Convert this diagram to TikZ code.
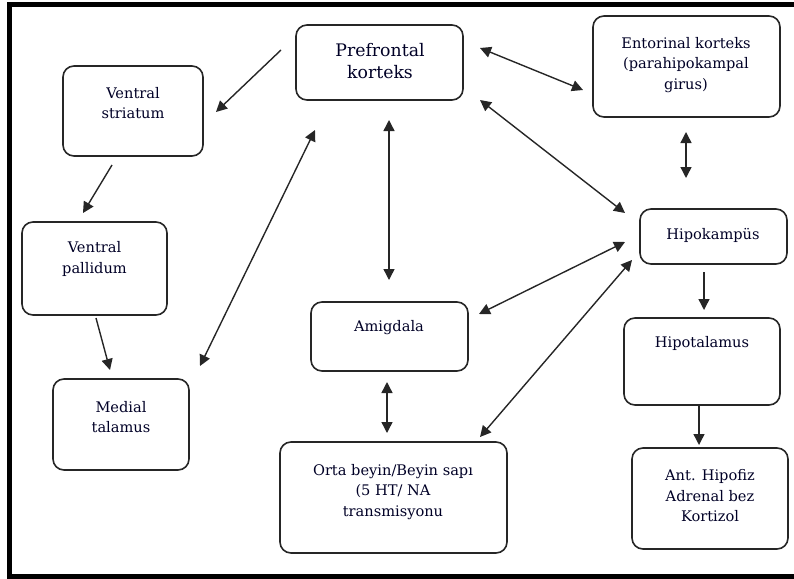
\documentclass[tikz,border=0pt]{standalone}
\usepackage{fontspec}
\setmainfont{DejaVu Serif}
\usetikzlibrary{arrows.meta}
\begin{document}
\begin{tikzpicture}[x=1pt,y=-1pt,
  boxst/.style={draw=black!85, line width=1.6pt, rounded corners=11pt, inner sep=0pt},
  txt/.style={align=center, font=\fontsize{14.6}{20.5}\selectfont, text=black!85!blue, inner sep=0pt},
  bigtxt/.style={align=center, font=\fontsize{17.3}{22}\selectfont, text=black!85!blue, inner sep=0pt},
  conn/.style={line width=1.4pt, draw=black!85, -{Triangle[length=11pt,width=11pt]}},
  dconn/.style={line width=1.4pt, draw=black!85, {Triangle[length=11pt,width=11pt]}-{Triangle[length=11pt,width=11pt]}}
]
\useasboundingbox (0,0) rectangle (794,578);
% frame (right side lies outside the picture)
\draw[line width=5pt] (800,4.5) -- (9.5,4.5) -- (9.5,576) -- (800,576);

% boxes
\draw[boxst] (296,25) rectangle (463,100) node[pos=.5] (pf) {};
\draw[boxst] (63,66) rectangle (203,156) node[pos=.5] (vs) {};
\draw[boxst] (22,222) rectangle (167,315) node[pos=.5] (vp) {};
\draw[boxst] (53,379) rectangle (189,470) node[pos=.5] (mt) {};
\draw[boxst] (311,302) rectangle (468,371) node[pos=.5] (am) {};
\draw[boxst] (280,442) rectangle (507,553) node[pos=.5] (ob) {};
\draw[boxst] (593,16) rectangle (780,117) node[pos=.5] (en) {};
\draw[boxst] (640,209) rectangle (787,264) node[pos=.5] (hk) {};
\draw[boxst] (624,318) rectangle (780,405) node[pos=.5] (ht) {};
\draw[boxst] (632,448) rectangle (788,549) node[pos=.5] (ah) {};

% texts
\node[bigtxt] (tpf) at (380,61) {Prefrontal\\korteks};
\node[txt] (tvs) at (133,103) {Ventral\\striatum};
\node[txt] (tvp) at (94.5,259) {Ventral\\pallidum};
\node[txt] (tmt) at (121,417) {Medial\\talamus};
\node[txt] (tam) at (389,328) {Amigdala};
\node[txt] (tob) at (393,492) {Orta beyin/Beyin sapı\\(5 HT/ NA\\transmisyonu};
\node[txt] (ten) at (686,65) {Entorinal korteks\\(parahipokampal\\girus)};
\node[txt] (thk) at (713,235) {Hipokampüs};
\node[txt] (tht) at (702,343) {Hipotalamus};
\node[txt] (tah) at (710,496) {Ant. Hipofiz\\Adrenal bez\\Kortizol};

% connector end points
\coordinate (a1s) at (281,50);   \coordinate (a1e) at (216,112);
\coordinate (a2s) at (112,165);  \coordinate (a2e) at (83,213);
\coordinate (a3s) at (96,318);   \coordinate (a3e) at (110,370);
\coordinate (a4s) at (200,366);  \coordinate (a4e) at (315,130);
\coordinate (a5s) at (389,120);  \coordinate (a5e) at (389,280);
\coordinate (a6s) at (480,48);   \coordinate (a6e) at (583,90);
\coordinate (a7s) at (480,100);  \coordinate (a7e) at (625,213);
\coordinate (a8s) at (686,132);  \coordinate (a8e) at (686,178);
\coordinate (a9s) at (479,314);  \coordinate (a9e) at (625,242);
\coordinate (a10s) at (480,437); \coordinate (a10e) at (632,260);
\coordinate (a11s) at (387,382); \coordinate (a11e) at (387,433);
\coordinate (a12s) at (704,272); \coordinate (a12e) at (704,310);
\coordinate (a13s) at (699,405); \coordinate (a13e) at (699,445);

\draw[conn] (a1s) -- (a1e);
\draw[conn] (a2s) -- (a2e);
\draw[conn] (a3s) -- (a3e);
\draw[dconn] (a4s) -- (a4e);
\draw[dconn] (a5s) -- (a5e);
\draw[dconn] (a6s) -- (a6e);
\draw[dconn] (a7s) -- (a7e);
\draw[dconn] (a8s) -- (a8e);
\draw[dconn] (a9s) -- (a9e);
\draw[dconn] (a10s) -- (a10e);
\draw[dconn] (a11s) -- (a11e);
\draw[conn] (a12s) -- (a12e);
\draw[conn] (a13s) -- (a13e);
\end{tikzpicture}
\end{document}
